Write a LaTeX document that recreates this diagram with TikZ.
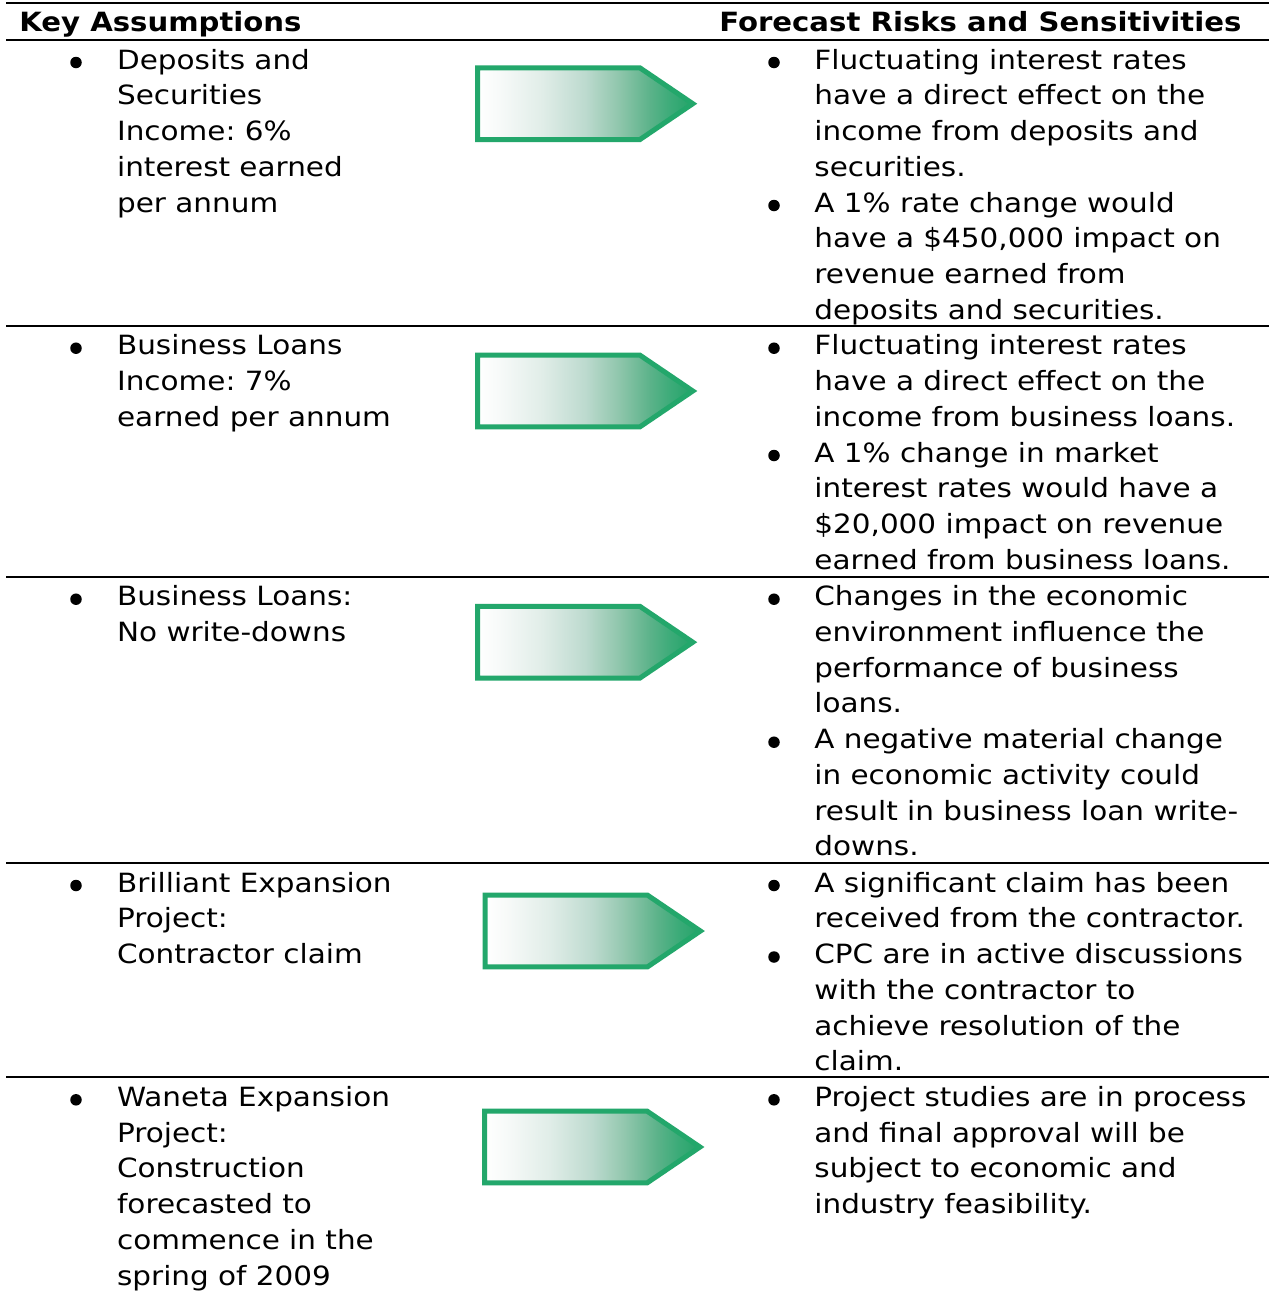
\documentclass[tikz,border=0pt]{standalone}
\usepackage{fontspec}
\setmainfont{DejaVu Sans}[FakeStretch=1.112, BoldFeatures={FakeStretch=1.1}]
\frenchspacing
\definecolor{arrowgreen}{RGB}{35,167,107}
\pgfdeclarehorizontalshading{arrowshade}{100bp}{rgb(0bp)=(1,1,1); rgb(25bp)=(1,1,1); rgb(30bp)=(0.97,0.98,0.975); rgb(40bp)=(0.88,0.93,0.91); rgb(50bp)=(0.74,0.855,0.81); rgb(57.5bp)=(0.57,0.78,0.68); rgb(65bp)=(0.36,0.70,0.54); rgb(70bp)=(0.23,0.67,0.47); rgb(75bp)=(0.14,0.64,0.41); rgb(100bp)=(0.14,0.64,0.41)}
\tikzset{
  txt/.style={anchor=base west, inner sep=0pt, outer sep=0pt, align=left, font=\fontsize{26.5}{35.75}\selectfont},
  hdr/.style={anchor=base west, inner sep=0pt, outer sep=0pt, font=\fontsize{26.5}{35.75}\selectfont\bfseries},
  rule/.style={line width=2pt, black},
  bulletdot/.style={circle, fill=black, draw=none, inner sep=0pt, minimum size=11.5pt},
  arrowbody/.style={draw=arrowgreen, line width=5pt, line join=miter, shade, shading=arrowshade},
  pics/riskarrow/.style={code={\path[arrowbody] (2.5,-35.8) -- (165,-35.8) -- (217.8,0) -- (165,35.8) -- (2.5,35.8) -- cycle;}}
}
\begin{document}
\begin{tikzpicture}[x=1pt,y=-1pt]
\useasboundingbox[fill=white] (0,0) rectangle (1269,1291);
% rules
\coordinate (r0l) at (6,3);   \coordinate (r0r) at (1269,3);
\coordinate (r1l) at (6,40);  \coordinate (r1r) at (1269,40);
\coordinate (r2l) at (6,325.7); \coordinate (r2r) at (1269,325.7);
\coordinate (r3l) at (6,576.7); \coordinate (r3r) at (1269,576.7);
\coordinate (r4l) at (6,863);   \coordinate (r4r) at (1269,863);
\coordinate (r5l) at (6,1077.3); \coordinate (r5r) at (1269,1077.3);
\draw[rule] (r0l) -- (r0r);
\draw[rule] (r1l) -- (r1r);
\draw[rule] (r2l) -- (r2r);
\draw[rule] (r3l) -- (r3r);
\draw[rule] (r4l) -- (r4r);
\draw[rule] (r5l) -- (r5r);
% headers
\node[hdr] (hleft) at (19.3,31.5) {Key Assumptions};
\node[hdr] (hright) at (719.3,31.5) {Forecast Risks and Sensitivities};
% row 1 (nodes anchored at the baseline of their last line)
\node[bulletdot] (bl1) at (76,62.5) {};
\node[txt] (tl1) at (117.1,212) {Deposits and\\Securities\\Income: 6\%\\interest earned\\per annum};
\pic at (475,103.7) {riskarrow};
\node[bulletdot] (br1a) at (774,62.5) {};
\node[txt] (tr1a) at (814.4,176.25) {Fluctuating interest rates\\have a direct effect on the\\income from deposits and\\securities.};
\node[bulletdot] (br1b) at (774,205.5) {};
\node[txt] (tr1b) at (814.4,319.25) {A 1\% rate change would\\have a \$450,000 impact on\\revenue earned from\\deposits and securities.};
% row 2
\node[bulletdot] (bl2) at (76,348.2) {};
\node[txt] (tl2) at (117.1,426.2) {Business Loans\\Income: 7\%\\earned per annum};
\pic at (475,391) {riskarrow};
\node[bulletdot] (br2a) at (774,348.2) {};
\node[txt] (tr2a) at (814.4,426.2) {Fluctuating interest rates\\have a direct effect on the\\income from business loans.};
\node[bulletdot] (br2b) at (774,455.5) {};
\node[txt] (tr2b) at (814.4,569.25) {A 1\% change in market\\interest rates would have a\\\$20,000 impact on revenue\\earned from business loans.};
% row 3
\node[bulletdot] (bl3) at (76,599.2) {};
\node[txt] (tl3) at (117.1,641.45) {Business Loans:\\No write-downs};
\pic at (475,642.2) {riskarrow};
\node[bulletdot] (br3a) at (774,599.2) {};
\node[txt] (tr3a) at (814.4,712.95) {Changes in the economic\\environment influence the\\performance of business\\loans.};
\node[bulletdot] (br3b) at (774,742.2) {};
\node[txt] (tr3b) at (814.4,855.95) {A negative material change\\in economic activity could\\result in business loan write-\\downs.};
% row 4
\node[bulletdot] (bl4) at (76,885.5) {};
\node[txt] (tl4) at (117.1,963.5) {Brilliant Expansion\\Project:\\Contractor claim};
\pic at (482.6,931) {riskarrow};
\node[bulletdot] (br4a) at (774,885.5) {};
\node[txt] (tr4a) at (814.4,927.75) {A significant claim has been\\received from the contractor.};
\node[bulletdot] (br4b) at (774,957) {};
\node[txt] (tr4b) at (814.4,1070.75) {CPC are in active discussions\\with the contractor to\\achieve resolution of the\\claim.};
% row 5
\node[bulletdot] (bl5) at (76,1099.8) {};
\node[txt] (tl5) at (117.1,1285.05) {Waneta Expansion\\Project:\\Construction\\forecasted to\\commence in the\\spring of 2009};
\pic at (482.2,1147) {riskarrow};
\node[bulletdot] (br5a) at (774,1099.8) {};
\node[txt] (tr5a) at (814.4,1213.55) {Project studies are in process\\and final approval will be\\subject to economic and\\industry feasibility.};
\end{tikzpicture}
\end{document}
